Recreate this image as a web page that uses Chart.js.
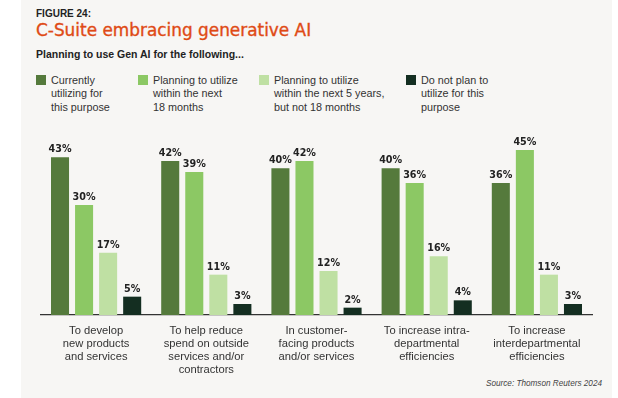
<!DOCTYPE html>
<html><head><meta charset="utf-8">
<script src="https://cdn.jsdelivr.net/npm/chart.js@4/dist/chart.umd.min.js"></script>
<style>
html,body{margin:0;padding:0;background:#fff;width:618px;height:398px;overflow:hidden;font-family:"Liberation Sans",Arial,sans-serif;}
#panel{position:absolute;left:21px;top:0;width:591px;height:398px;background:#f7f6f4;}
#fig{position:absolute;left:36px;top:8px;font-size:10px;line-height:normal;font-weight:bold;color:#222;}
#title{position:absolute;left:36px;top:20px;font-family:"DejaVu Sans",sans-serif;font-size:16.9px;line-height:normal;color:#df4a15;-webkit-text-stroke:0.35px #df4a15;}
#sub{position:absolute;left:36px;top:48px;font-size:10.5px;line-height:normal;font-weight:bold;color:#222;}
.leg{position:absolute;top:75px;font-size:10.8px;line-height:13.3px;color:#333;}
.leg .sw{position:absolute;left:0;top:0;width:10px;height:10px;}
.leg .tx{position:absolute;left:15px;top:-1px;white-space:nowrap;}
#src{position:absolute;right:16px;top:378.5px;font-size:8.2px;line-height:normal;font-style:italic;color:#444;}
canvas{position:absolute;left:0;top:0;}
</style></head>
<body>
<div id="panel"></div>
<div id="fig">FIGURE 24:</div>
<div id="title">C-Suite embracing generative AI</div>
<div id="sub">Planning to use Gen AI for the following...</div>
<div id="legend"></div>
<div id="src">Source: Thomson Reuters 2024</div>
<canvas id="c" width="618" height="398"></canvas>
<script>
const categories = [
  ["To develop","new products","and services"],
  ["To help reduce","spend on outside","services and/or","contractors"],
  ["In customer-","facing products","and/or services"],
  ["To increase intra-","departmental","efficiencies"],
  ["To increase","interdepartmental","efficiencies"]
];
const seriesNames = [
  ["Currently","utilizing for","this purpose"],
  ["Planning to utilize","within the next","18 months"],
  ["Planning to utilize","within the next 5 years,","but not 18 months"],
  ["Do not plan to","utilize for this","purpose"]
];
const currentlyUtilizing = [43, 42, 40, 40, 36];
const within18Months = [30, 39, 42, 36, 45];
const within5Years = [17, 11, 12, 16, 11];
const doNotPlan = [5, 3, 2, 4, 3];
const seriesColors = ["#557a3c", "#8cc864", "#bfe0a3", "#142e21"];
const legendX = [36, 138, 259, 406];

const leg = document.getElementById('legend');
seriesNames.forEach((n, i) => {
  const d = document.createElement('div');
  d.className = 'leg';
  d.style.left = legendX[i] + 'px';
  d.innerHTML = '<div class="sw" style="background:' + seriesColors[i] + '"></div><div class="tx">' + n.join('<br>') + '</div>';
  leg.appendChild(d);
});

const allSeries = [currentlyUtilizing, within18Months, within5Years, doNotPlan];
const labelPlugin = {
  id: 'vals',
  afterDatasetsDraw(chart) {
    const ctx = chart.ctx;
    ctx.save();
    ctx.font = 'bold 9.6px "DejaVu Sans", sans-serif';
    ctx.fillStyle = '#222';
    ctx.textAlign = 'center';
    ctx.textBaseline = 'alphabetic';
    chart.data.datasets.forEach((ds, i) => {
      chart.getDatasetMeta(i).data.forEach((bar, j) => {
        ctx.fillText(ds.data[j] + '%', bar.x, bar.y - 5);
      });
    });
    ctx.restore();
  }
};

new Chart(document.getElementById('c'), {
  type: 'bar',
  data: {
    labels: categories,
    datasets: allSeries.map((d, i) => ({
      label: seriesNames[i].join(' '),
      data: d,
      backgroundColor: seriesColors[i],
      categoryPercentage: 0.873,
      barPercentage: 0.75
    }))
  },
  options: {
    responsive: false,
    animation: false,
    devicePixelRatio: 1,
    layout: { padding: { left: 41, right: 26, top: 150, bottom: 0 } },
    plugins: { legend: { display: false }, tooltip: { enabled: false } },
    scales: {
      y: { display: false, min: 0, max: 45 },
      x: {
        grid: { display: false, drawTicks: false },
        border: { display: true, color: '#333', width: 1.3 },
        ticks: {
          color: '#333',
          padding: 9,
          maxRotation: 0,
          autoSkip: false,
          font: { family: '"Liberation Sans", Arial, sans-serif', size: 11.2, lineHeight: 1.17 }
        },
        afterFit(scale) { scale.height = 83; }
      }
    }
  },
  plugins: [labelPlugin]
});
</script>
</body></html>
